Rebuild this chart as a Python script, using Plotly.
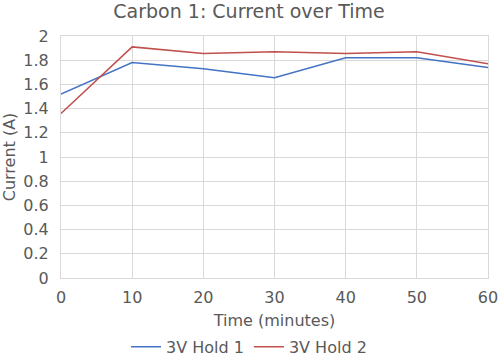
import plotly.graph_objects as go

time_min = [0, 10, 20, 30, 40, 50, 60]
hold1 = [1.52, 1.78, 1.73, 1.655, 1.82, 1.82, 1.74]
hold2 = [1.36, 1.91, 1.855, 1.87, 1.855, 1.87, 1.77]
series_names = ["3V Hold 1", "3V Hold 2"]
x_ticks = [0, 10, 20, 30, 40, 50, 60]
y_ticks = [0, 0.2, 0.4, 0.6, 0.8, 1, 1.2, 1.4, 1.6, 1.8, 2]

FONT = "DejaVu Sans, Verdana, sans-serif"
TXT = "#595959"
GRID = "#d9d9d9"

fig = go.Figure()
fig.add_trace(go.Scatter(x=time_min, y=hold1, mode="lines", name=series_names[0],
                         line=dict(color="#4472C4", width=1.5)))
fig.add_trace(go.Scatter(x=time_min, y=hold2, mode="lines", name=series_names[1],
                         line=dict(color="#C0504D", width=1.5)))

fig.update_layout(
    width=498, height=359,
    margin=dict(l=61, r=10, t=36, b=81, autoexpand=False),
    paper_bgcolor="white", plot_bgcolor="white",
    font=dict(family=FONT, color=TXT, size=16),
    title=dict(text="Carbon 1: Current over Time", x=0.5, xanchor="center",
               y=0.969, yanchor="middle", font=dict(size=19, color=TXT)),
    legend=dict(orientation="h", x=0.5, xanchor="center", xref="container",
                y=0.034, yanchor="middle", yref="container",
                font=dict(size=16, color=TXT), itemwidth=30, traceorder="normal",
                tracegroupgap=0),
    showlegend=True,
    hovermode=False,
)
fig.update_xaxes(range=[0, 60], tickvals=x_ticks, showgrid=True, gridcolor=GRID,
                 gridwidth=1, showline=True, linecolor=GRID, mirror=True, zeroline=False,
                 ticks="", automargin=False, ticklabeloverflow="allow",
                 ticklabelstandoff=5,
                 title=dict(text="Time (minutes)", standoff=8,
                            font=dict(size=16, color=TXT)))
fig.update_yaxes(range=[0, 2], tickvals=y_ticks, ticktext=[f"{v:g}" for v in y_ticks],
                 showgrid=True, gridcolor=GRID, gridwidth=1, showline=True,
                 linecolor=GRID, mirror=True, zeroline=False, ticks="", automargin=False,
                 ticklabeloverflow="allow", ticklabelstandoff=8,
                 title=dict(text="Current (A)", standoff=4, font=dict(size=16, color=TXT)))

fig.write_html("out.html", config={"displayModeBar": False, "staticPlot": True},
               post_script="document.body.style.margin='0';document.body.style.padding='0';")
